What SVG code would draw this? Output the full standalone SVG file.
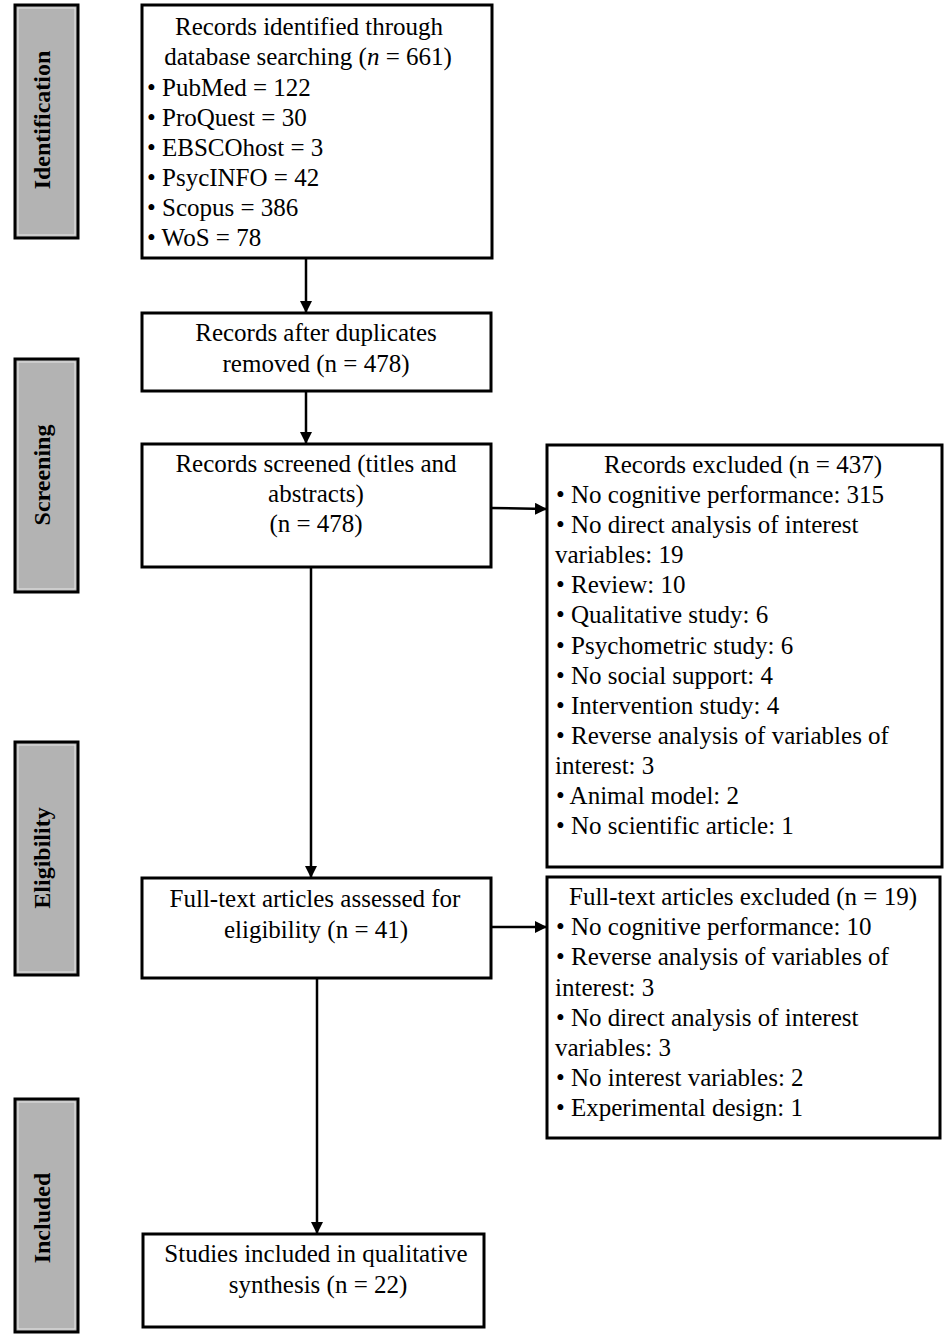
<svg xmlns="http://www.w3.org/2000/svg" width="950" height="1339" viewBox="0 0 950 1339">
<style>
.box{fill:#fff;stroke:#000;stroke-width:3}
.side{fill:#b3b3b3;stroke:#000;stroke-width:3}
.sidein{fill:none;stroke:#e6e6e6;stroke-width:1}
.t{font-family:"Liberation Serif","Times New Roman",serif;font-size:25px;fill:#000}
.c{text-anchor:middle}
.lab{font-family:"Liberation Serif","Times New Roman",serif;font-size:24px;font-weight:bold;fill:#000;text-anchor:middle}
.conn{stroke:#000;stroke-width:2.5;fill:none}
</style>
<defs>
<marker id="ah" markerUnits="userSpaceOnUse" markerWidth="14" markerHeight="14" refX="12" refY="6" orient="auto">
<path d="M0,0 L12,6 L0,12 z" fill="#000"/>
</marker>
</defs>
<rect width="950" height="1339" fill="#fff"/>

<g id="stage-identification">
<rect class="side" x="15" y="5" width="63" height="233"/>
<rect class="sidein" x="18" y="8" width="57" height="227"/>
<text class="lab" transform="translate(50,120) rotate(-90)">Identification</text>
</g>
<g id="stage-screening">
<rect class="side" x="15" y="359" width="63" height="233"/>
<rect class="sidein" x="18" y="362" width="57" height="227"/>
<text class="lab" transform="translate(50,475) rotate(-90)">Screening</text>
</g>
<g id="stage-eligibility">
<rect class="side" x="15" y="742" width="63" height="233"/>
<rect class="sidein" x="18" y="745" width="57" height="227"/>
<text class="lab" transform="translate(50,858) rotate(-90)">Eligibility</text>
</g>
<g id="stage-included">
<rect class="side" x="15" y="1099" width="63" height="233"/>
<rect class="sidein" x="18" y="1102" width="57" height="227"/>
<text class="lab" transform="translate(50,1218) rotate(-90)">Included</text>
</g>

<g id="identified">
<rect class="box" x="142" y="5" width="350" height="253"/>
<text class="t c" x="309" y="35">Records identified through</text>
<text class="t c" x="308" y="65">database searching (<tspan font-style="italic">n</tspan> = 661)</text>
<text class="t" x="147" y="96">• PubMed = 122</text>
<text class="t" x="147" y="126">• ProQuest = 30</text>
<text class="t" x="147" y="156">• EBSCOhost = 3</text>
<text class="t" x="147" y="186">• PsycINFO = 42</text>
<text class="t" x="147" y="216">• Scopus = 386</text>
<text class="t" x="147" y="246">• WoS = 78</text>
</g>

<g id="duplicates">
<rect class="box" x="142" y="313" width="349" height="78"/>
<text class="t c" x="316" y="341">Records after duplicates</text>
<text class="t c" x="316" y="372">removed (n = 478)</text>
</g>

<g id="screened">
<rect class="box" x="142" y="444" width="349" height="123"/>
<text class="t c" x="316" y="472">Records screened (titles and</text>
<text class="t c" x="316" y="502">abstracts)</text>
<text class="t c" x="316" y="532">(n = 478)</text>
</g>

<g id="excluded1">
<rect class="box" x="547" y="445" width="395" height="422"/>
<text class="t c" x="743" y="473">Records excluded (n = 437)</text>
<text class="t" x="556" y="503">• No cognitive performance: 315</text>
<text class="t" x="556" y="533">• No direct analysis of interest</text>
<text class="t" x="555" y="563">variables: 19</text>
<text class="t" x="556" y="593">• Review: 10</text>
<text class="t" x="556" y="623">• Qualitative study: 6</text>
<text class="t" x="556" y="654">• Psychometric study: 6</text>
<text class="t" x="556" y="684">• No social support: 4</text>
<text class="t" x="556" y="714">• Intervention study: 4</text>
<text class="t" x="556" y="744">• Reverse analysis of variables of</text>
<text class="t" x="555" y="774">interest: 3</text>
<text class="t" x="556" y="804">• Animal model: 2</text>
<text class="t" x="556" y="834">• No scientific article: 1</text>
</g>

<g id="fulltext">
<rect class="box" x="142" y="878" width="349" height="100"/>
<text class="t c" x="315" y="907">Full-text articles assessed for</text>
<text class="t c" x="316" y="938">eligibility (n = 41)</text>
</g>

<g id="excluded2">
<rect class="box" x="547" y="877" width="393" height="261"/>
<text class="t c" x="743" y="905">Full-text articles excluded (n = 19)</text>
<text class="t" x="556" y="935">• No cognitive performance: 10</text>
<text class="t" x="556" y="965">• Reverse analysis of variables of</text>
<text class="t" x="555" y="996">interest: 3</text>
<text class="t" x="556" y="1026">• No direct analysis of interest</text>
<text class="t" x="555" y="1056">variables: 3</text>
<text class="t" x="556" y="1086">• No interest variables: 2</text>
<text class="t" x="556" y="1116">• Experimental design: 1</text>
</g>

<g id="included">
<rect class="box" x="143" y="1234" width="341" height="93"/>
<text class="t c" x="316" y="1262">Studies included in qualitative</text>
<text class="t c" x="318" y="1293">synthesis (n = 22)</text>
</g>

<g id="connectors">
<line class="conn" x1="306" y1="258" x2="306" y2="313" marker-end="url(#ah)"/>
<line class="conn" x1="306" y1="391" x2="306" y2="444" marker-end="url(#ah)"/>
<line class="conn" x1="491" y1="508" x2="547" y2="509" marker-end="url(#ah)"/>
<line class="conn" x1="311" y1="567" x2="311" y2="878" marker-end="url(#ah)"/>
<line class="conn" x1="491" y1="927" x2="547" y2="927" marker-end="url(#ah)"/>
<line class="conn" x1="317" y1="978" x2="317" y2="1234" marker-end="url(#ah)"/>
</g>
</svg>
